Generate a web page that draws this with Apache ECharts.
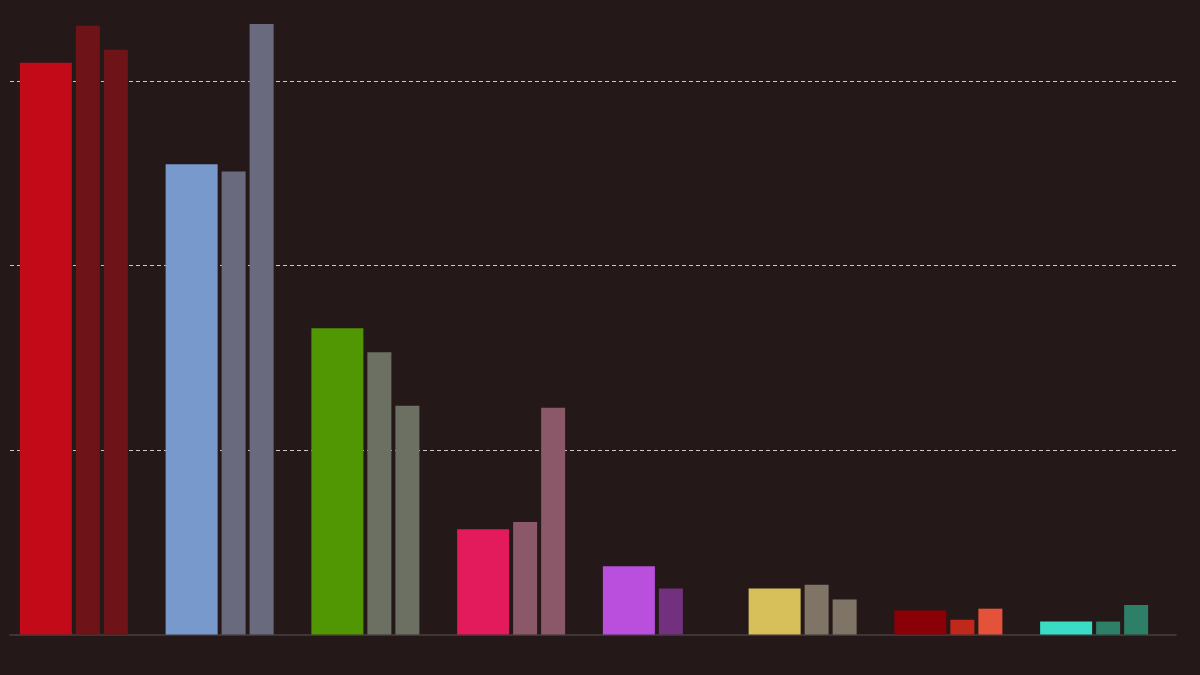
<!DOCTYPE html>
<html>
<head>
<meta charset="utf-8">
<title>Estimación de voto</title>
<script src="https://cdn.jsdelivr.net/npm/echarts@6/dist/echarts.min.js"></script>
<style>
  html, body { margin: 0; padding: 0; background: #251819; }
  #chart { width: 1200px; height: 675px; }
</style>
</head>
<body>
<div id="chart"></div>
<script>
// partidos
var categories = ['PSOE', 'PP', 'Vox', 'Sumar', 'Podemos', 'ERC', 'EH Bildu', 'Junts'];
// estimación actual (%)
var current = [31.0, 25.5, 16.6, 5.7, 3.7, 2.5, 1.3, 0.7];
// estimación anterior (%)
var previous = [33.0, 25.1, 15.3, 6.1, 2.5, 2.7, 0.8, 0.7];
// elecciones 2023 (%)
var election = [31.7, 33.1, 12.4, 12.3, null, 1.9, 1.4, 1.6];
var yTicks = [0, 10, 20, 30];

var currentColors = ['#c20a18', '#7799cc', '#519603', '#e31a5b', '#b94fdc', '#d7c05a', '#8b0007', '#3adcc6'];
var previousColors = ['#6e1418', '#6a6a7e', '#6b7062', '#8a5868', '#72307f', '#7f7466', '#c1281c', '#2d7f68'];
var electionColors = ['#6e1418', '#6a6a7e', '#6b7062', '#8a5868', '#72307f', '#7f7466', '#e4523a', '#2d7f68'];

function toData(values) {
    var out = [];
    values.forEach(function (v, i) {
        if (v != null) out.push([i, v]);
    });
    return out;
}

// barra dibujada desde la escala del eje (offset respecto al centro de la categoría)
function makeRender(offset, width, colors) {
    return function (params, api) {
        var g = api.value(0);
        var base = api.coord([g, 0]);
        var top = api.coord([g, api.value(1)]);
        return {
            type: 'rect',
            shape: { x: base[0] + offset, y: top[1], width: width, height: base[1] - top[1] },
            style: { fill: colors[g] }
        };
    };
}

var chart = echarts.init(document.getElementById('chart'));
chart.setOption({
    backgroundColor: '#251819',
    animation: false,
    grid: {
        left: 10,
        right: 24,
        top: 0,
        bottom: 40.5,
        containLabel: false
    },
    xAxis: {
        type: 'category',
        data: categories,
        boundaryGap: true,
        axisLine: { show: true, lineStyle: { color: '#3d3536', width: 2 } },
        axisTick: { show: false },
        axisLabel: { show: false },
        splitLine: { show: false }
    },
    yAxis: {
        type: 'value',
        min: yTicks[0],
        max: 34.4,
        interval: 10,
        axisLine: { show: false },
        axisTick: { show: false },
        axisLabel: { show: false },
        splitLine: {
            show: true,
            showMinLine: false,
            showMaxLine: false,
            lineStyle: { color: '#cfc6c6', width: 1, type: [4, 3] }
        }
    },
    series: [
        {
            name: 'Estimación',
            type: 'custom',
            renderItem: makeRender(-63, 52, currentColors),
            encode: { x: 0, y: 1 },
            data: toData(current)
        },
        {
            name: 'Anterior',
            type: 'custom',
            renderItem: makeRender(-7, 24, previousColors),
            encode: { x: 0, y: 1 },
            data: toData(previous)
        },
        {
            name: '2023',
            type: 'custom',
            renderItem: makeRender(21, 24, electionColors),
            encode: { x: 0, y: 1 },
            data: toData(election)
        }
    ]
});
</script>
</body>
</html>
